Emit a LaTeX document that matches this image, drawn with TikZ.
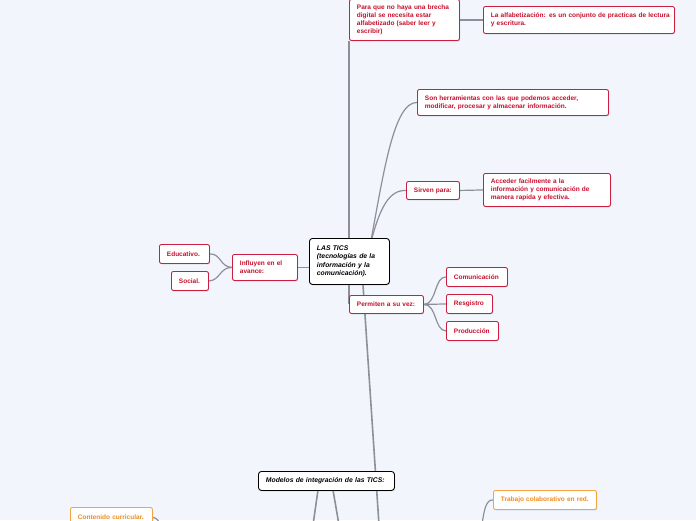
\documentclass[tikz,border=0pt]{standalone}
\usepackage{fontspec}
\setmainfont{Liberation Sans}
\usetikzlibrary{shadows}
\definecolor{bgc}{HTML}{F3F5FD}
\definecolor{tred}{HTML}{C8102E}
\definecolor{bred}{HTML}{CC1F40}
\definecolor{tor}{HTML}{F28C1E}
\definecolor{bor}{HTML}{F5A440}
\definecolor{lnc}{HTML}{8E9099}
\pgfdeclarelayer{bg}
\pgfdeclarelayer{lines}
\pgfsetlayers{bg,lines,main}
\tikzset{
 base/.style={anchor=north west, rounded corners=2pt, line width=0.9pt, fill=white,
   inner xsep=7.5pt, inner ysep=2pt, align=left,
   font=\fontsize{6.5}{8}\selectfont\bfseries,
   drop shadow={shadow xshift=0.7pt, shadow yshift=-0.9pt, opacity=0.3}},
 rbox/.style={base, draw=bred, text=tred},
 obox/.style={base, draw=bor, text=tor},
 kbox/.style={base, draw=black, text=black, rounded corners=3pt,
   font=\fontsize{6.8}{8.3}\selectfont\bfseries\itshape},
 sz/.style n args={3}{minimum width=#1pt, minimum height=#2pt, text width=#3pt},
 conn/.style={draw=lnc, line width=1.6pt},
 sub/.style={draw=lnc, line width=1.2pt},
}
\begin{document}
\begin{tikzpicture}[x=1pt,y=-1pt]
\useasboundingbox (0,0) rectangle (696,520);
\begin{pgfonlayer}{bg}
\fill[bgc] (0,0) rectangle (696,520);
\end{pgfonlayer}
\clip (0,0) rectangle (696,520);

\node[rbox, sz={110}{41}{95}] (para) at (349,-1) {Para que no haya una brecha\\digital se necesita estar\\alfabetizado (saber leer y\\escribir)};
\node[rbox, sz={191}{27}{176}] (la) at (483,6) {\mbox{La alfabetización: es un conjunto de practicas de lectura}\\y escritura.};
\node[rbox, sz={191}{26}{176}] (son) at (417,89) {Son herramientas con las que podemos acceder,\\modificar, procesar y almacenar información.};
\node[rbox, sz={53}{18}{38}] (sirven) at (406,181) {Sirven para:};
\node[rbox, sz={127}{33}{112}] (acc) at (483,173) {Acceder facilmente a la\\información y comunicación de\\manera rapida y efectiva.};
\node[kbox, sz={80}{46}{65}] (tics) at (309,238) {LAS TICS\\(tecnologías de la\\información y la\\comunicación).};
\node[rbox, sz={65}{26}{50}] (inf) at (232,254) {Influyen en el\\avance:};
\node[rbox, sz={50}{19}{35}] (edu) at (159,244) {Educativo.};
\node[rbox, sz={37}{19}{22}] (soc) at (171,271) {Social.};
\node[rbox, sz={74}{18}{59}] (perm) at (349,295) {Permiten a su vez:};
\node[rbox, sz={61}{19}{46}] (com) at (446,267) {Comunicación};
\node[rbox, sz={46}{19}{31}] (res) at (446,294) {Resgistro};
\node[rbox, sz={52}{19}{37}] (pro) at (446,321) {Producción};
\node[kbox, sz={136}{19}{121}] (mod) at (258,471) {Modelos de integración de las TICS:};
\node[obox, sz={103}{19}{88}] (trab) at (493,490) {Trabajo colaborativo en red.};
\node[obox, sz={82}{20}{67}, inner ysep=1pt] (cont) at (70,507) {Contenido curricular.};

\coordinate (cA) at (349,261);
\coordinate (cB) at (370,246);
\coordinate (cD) at (362,270);
\coordinate (bot1) at (379,525);
\coordinate (m1t) at (318,490);
\coordinate (m1b) at (313,525);
\coordinate (m2t) at (333,490);
\coordinate (m2b) at (339,525);
\coordinate (tb) at (482,525);
\coordinate (cb) at (160,525);

\begin{pgfonlayer}{lines}
\draw[conn] (cA) -- (para.south west);
\draw[conn] (cA) -- (perm.west);
\draw[sub] (cB) .. controls (384,170) and (394,102) .. (son.west);
\draw[sub] (cB) .. controls (380,205) and (390,190) .. (sirven.west);
\draw[conn] (cD) -- (bot1);
\draw[conn] (inf.east) -- (inf.east -| tics.west);
\draw[sub] (inf.west) .. controls (220,267) and (221,253.5) .. (edu.east);
\draw[sub] (inf.west) .. controls (220,267) and (220,280.5) .. (soc.east);
\draw[sub] (para.east) -- (la.west);
\draw[sub] (sirven.east) -- (acc.west);
\draw[sub] (perm.east) .. controls (437,304) and (434,276.5) .. (com.west);
\draw[sub] (perm.east) -- (res.west);
\draw[sub] (perm.east) .. controls (437,304) and (434,330.5) .. (pro.west);
\draw[conn] (m1t) -- (m1b);
\draw[conn] (m2t) -- (m2b);
\draw[sub] (trab.west) .. controls (486,499.5) and (484,510) .. (tb);
\draw[sub] (cont.east) .. controls (157,518) and (159,521) .. (cb);
\end{pgfonlayer}
\end{tikzpicture}
\end{document}
